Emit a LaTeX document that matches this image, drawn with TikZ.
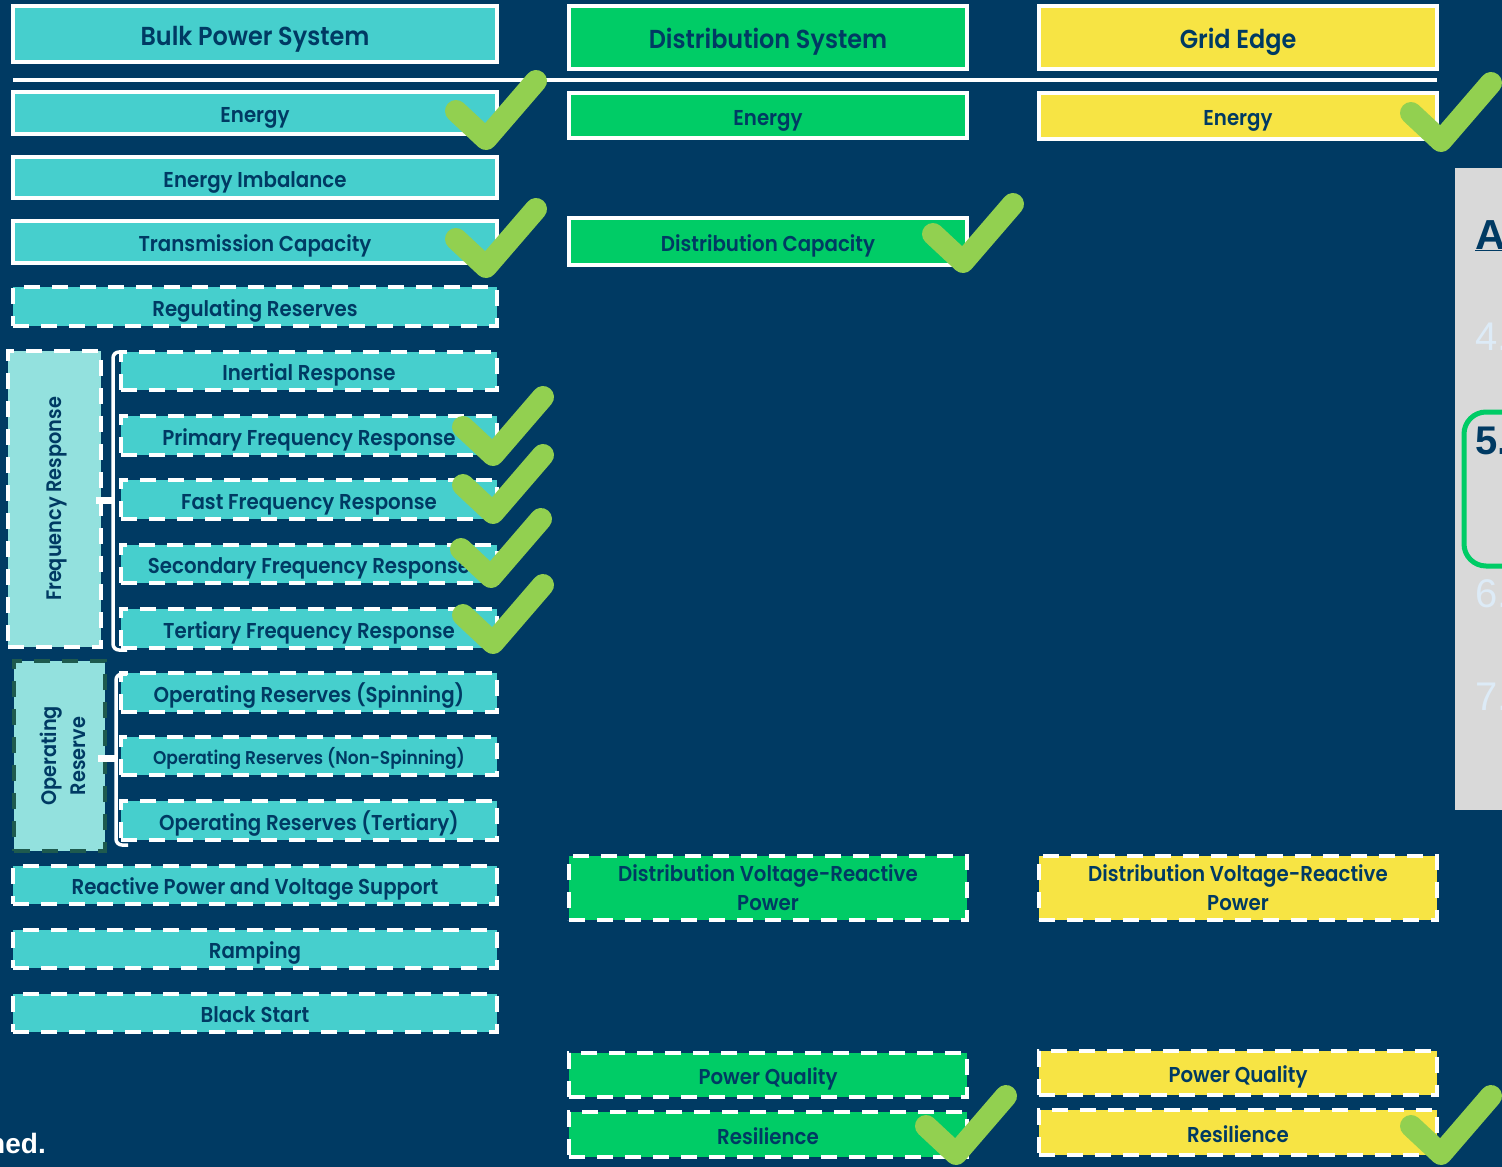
\documentclass[tikz,border=0pt]{standalone}
\usepackage{fontspec}
\setmainfont{Poppins}[BoldFont={Poppins SemiBold}, BoldFeatures={FakeStretch=0.92}]
\newfontfamily\panelfont{Liberation Sans}
\usetikzlibrary{calc}
\definecolor{navy}{HTML}{003A63}
\definecolor{teal}{HTML}{46CFCD}
\definecolor{paleteal}{HTML}{93E1DE}
\definecolor{dgreen}{HTML}{00CC66}
\definecolor{sun}{HTML}{F7E444}
\definecolor{tick}{HTML}{92D050}
\definecolor{moss}{HTML}{1E5A4E}
\definecolor{panelgrey}{HTML}{D9D9D9}
\definecolor{paleblue}{HTML}{DDEBF7}
\tikzset{
  x=1pt, y=-1pt,
  basecell/.style={inner sep=0pt, align=center, text=navy, font=\bfseries\fontsize{21.5}{29}\selectfont},
  cell/.style={basecell, text height=19pt, text depth=0pt},
  edge/.style={draw=white, line width=3.5pt},
  dashedge/.style={edge, dash pattern=on 16pt off 12pt},
  solidcell/.style={cell, edge},
  dashcell/.style={cell, dashedge},
  twolinecell/.style={basecell, dashedge},
  headcell/.style={solidcell, text height=22pt, font=\bfseries\fontsize{26}{30}\selectfont},
  groupcell/.style={inner sep=0pt, fill=paleteal, line width=3.5pt, dash pattern=on 16pt off 12pt},
  grouplabel/.style={inner sep=0pt, align=center, text=navy, rotate=90,
    font=\bfseries\fontsize{21}{29}\selectfont},
  brace/.style={draw=white, line width=3.5pt, rounded corners=6pt},
  checkmark/.style={draw=tick, line width=22pt, line cap=round, line join=round},
  agenda/.style={anchor=base west, inner sep=0pt, text=paleblue, font=\panelfont\fontsize{40}{44}\selectfont},
}
\newcommand\tickat[2]{\draw[checkmark] (#1-30,#2-28) -- (#1,#2) -- (#1+50,#2-58);}
\begin{document}
\begin{tikzpicture}
\useasboundingbox (0,0) rectangle (1502,1167);
\clip (0,0) rectangle (1502,1167);
\fill[navy] (0,0) rectangle (1502,1167);

% column headers and the rule under them
\node[headcell, fill=teal, minimum width=484pt, minimum height=56pt] (bulk) at (255,34) {Bulk Power System};
\node[headcell, fill=dgreen, minimum width=398pt, minimum height=63pt] (dist) at (768,37.5) {Distribution System};
\node[headcell, fill=sun, minimum width=398pt, minimum height=63pt] (gridedge) at (1238,37.5) {Grid Edge};
\draw[white, line width=4pt] (13,80) -- (1437,80);

% bulk power system services
\node[solidcell, fill=teal, minimum width=484pt, minimum height=42pt] (benergy) at (255,113) {Energy};
\node[solidcell, fill=teal, minimum width=484pt, minimum height=41pt] (bimb) at (255,177.5) {Energy Imbalance};
\node[solidcell, fill=teal, minimum width=484pt, minimum height=42pt] (btrans) at (255,242) {Transmission Capacity};
\node[dashcell, fill=teal, minimum width=484pt, minimum height=39pt] (breg) at (255,306.5) {Regulating Reserves};

% frequency response group
\node[groupcell, draw=white, minimum width=93pt, minimum height=296pt] (freq) at (54.5,499) {};
\node[grouplabel, text height=14pt, text depth=0pt] (freqlbl) at (freq.center) {Frequency Response};
\node[dashcell, fill=teal, minimum width=376pt, minimum height=38pt] (inert) at (309,371) {Inertial Response};
\node[dashcell, fill=teal, minimum width=376pt, minimum height=39pt] (prim) at (309,435.5) {Primary Frequency Response};
\node[dashcell, fill=teal, minimum width=376pt, minimum height=39pt] (fast) at (309,499.5) {Fast Frequency Response};
\node[dashcell, fill=teal, minimum width=376pt, minimum height=38pt] (sec) at (309,564) {Secondary Frequency Response};
\node[dashcell, fill=teal, minimum width=376pt, minimum height=39pt] (tert) at (309,628.5) {Tertiary Frequency Response};
\draw[brace] (125,352) -- (113,352) -- (113,650) -- (127,650);
\fill[white] (96,497) rectangle (113,504);

% operating reserve group
\node[groupcell, draw=moss, minimum width=91pt, minimum height=190pt] (oper) at (59.5,756) {};
\node[grouplabel] (operlbl) at ([xshift=3pt]oper.center) {Operating\\Reserve};
\node[dashcell, fill=teal, minimum width=376pt, minimum height=39pt] (ospin) at (309,692.5) {Operating Reserves (Spinning)};
\node[dashcell, fill=teal, minimum width=376pt, minimum height=38pt, text height=17pt, font=\bfseries\fontsize{18.5}{22}\selectfont] (onon) at (309,756) {Operating Reserves (Non-Spinning)};
\node[dashcell, fill=teal, minimum width=376pt, minimum height=39pt] (oter) at (309,820.5) {Operating Reserves (Tertiary)};
\draw[brace] (127,674) -- (116,674) -- (116,845) -- (128,845);
\fill[white] (98,755) rectangle (116,762);

\node[dashcell, fill=teal, minimum width=484pt, minimum height=38pt] (react) at (255,885) {Reactive Power and Voltage Support};
\node[dashcell, fill=teal, minimum width=484pt, minimum height=38pt] (ramp) at (255,949) {Ramping};
\node[dashcell, fill=teal, minimum width=484pt, minimum height=38pt] (black) at (255,1013) {Black Start};

% distribution system services
\node[solidcell, fill=dgreen, minimum width=398pt, minimum height=45pt] (denergy) at (768,115.5) {Energy};
\node[solidcell, fill=dgreen, minimum width=398pt, minimum height=47pt] (dcap) at (768,241.5) {Distribution Capacity};
\node[twolinecell, fill=dgreen, minimum width=398pt, minimum height=64pt] (dvolt) at (768,888) {Distribution Voltage-Reactive\\Power};
\node[dashcell, fill=dgreen, minimum width=398pt, minimum height=44pt] (dpq) at (768,1075) {Power Quality};
\node[dashcell, fill=dgreen, minimum width=398pt, minimum height=45pt] (dres) at (768,1134.5) {Resilience};

% grid edge services
\node[solidcell, fill=sun, minimum width=398pt, minimum height=46pt] (genergy) at (1238,116) {Energy};
\node[twolinecell, fill=sun, minimum width=398pt, minimum height=64pt] (gvolt) at (1238,888) {Distribution Voltage-Reactive\\Power};
\node[dashcell, fill=sun, minimum width=398pt, minimum height=44pt] (gpq) at (1238,1073) {Power Quality};
\node[dashcell, fill=sun, minimum width=398pt, minimum height=45pt] (gres) at (1238,1132.5) {Resilience};

% agenda panel on the right edge
\fill[panelgrey] (1455,168) rectangle (1520,810);
\node[agenda, text=navy, font=\panelfont\bfseries\fontsize{42}{46}\selectfont] (agA) at (1475,249) {\underline{A}};
\node[agenda] (ag4) at (1475,350) {4.};
\node[agenda, text=navy, font=\panelfont\bfseries\fontsize{40}{44}\selectfont] (ag5) at (1475,454) {5.};
\node[agenda] (ag6) at (1475,607) {6.};
\node[agenda] (ag7) at (1475,710) {7.};
\draw[dgreen, line width=5pt, rounded corners=22pt] (1540,412) -- (1464,412) -- (1464,566) -- (1540,566);

% footnote fragment
\node[anchor=base east, inner sep=0pt, text=white, font=\panelfont\bfseries\fontsize{28}{30}\selectfont] (foot) at (46,1153) {ned.};

% check marks
\tickat{486}{139}
\tickat{486}{267}
\tickat{963}{262}
\tickat{1441}{141}
\tickat{493}{455}
\tickat{493}{513}
\tickat{491}{577}
\tickat{493}{643}
\tickat{956}{1154}
\tickat{1441}{1154}
\end{tikzpicture}
\end{document}
